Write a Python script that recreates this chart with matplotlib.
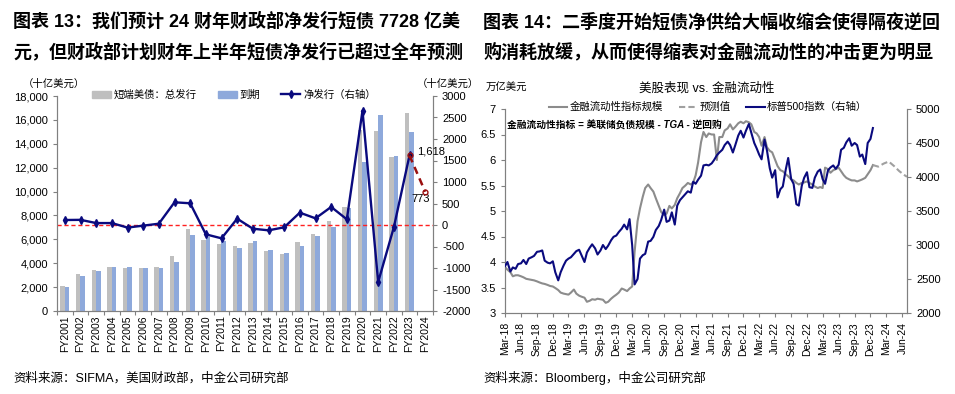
import numpy as np
import pandas as pd
import matplotlib
matplotlib.use('Agg')
import matplotlib.pyplot as plt
import matplotlib.ticker as mticker
import matplotlib.dates as mdates
from matplotlib.lines import Line2D
from matplotlib.patches import Patch

plt.rcParams['font.family'] = ['Liberation Sans', 'Noto Sans CJK SC', 'DejaVu Sans']
plt.rcParams['axes.unicode_minus'] = False

# ---------------- 左图数据 (十亿美元) ----------------
years = ['FY%d' % y for y in range(2001, 2025)]
gross = [2100, 3100, 3400, 3700, 3620, 3620, 3650, 4600, 6880, 5980, 5620, 5430,
         5730, 5010, 4760, 5770, 6430, 7520, 8700, 15150, 15100, 12900, 16600]
maturity = [2000, 2950, 3370, 3680, 3680, 3620, 3620, 4070, 6380, 6210, 5900, 5290,
            5820, 5100, 4850, 5460, 6300, 7060, 8600, 12500, 16400, 12970, 14950]
net = [116, 120, 45, 45, -60, -15, 30, 528, 505, -217, -310, 147,
       -86, -124, -54, 287, 155, 420, 132, 2658, -1326, -54, 1618]
net_fcst = [1618, 773]

# ---------------- 右图数据 ----------------
# 半月度读数, 2018-03 ~ 2023-12
spx = [2690, 2750, 2610, 2670, 2650, 2720, 2730, 2780, 2720, 2800, 2820, 2840, 2900, 2905, 2920, 2770, 2740, 2730, 2760, 2600,
       2480, 2600, 2700, 2770, 2800, 2820, 2870, 2910, 2930, 2850, 2750, 2890, 2960, 3010, 2950, 2860, 2920, 3000, 2940, 2990, 3070, 3120, 3140, 3190,
       3240, 3300, 3230, 3380, 3000, 2420, 2500, 2800, 2850, 2870, 3050, 3060, 3120, 3220, 3280, 3370, 3520, 3340, 3360, 3480, 3300, 3580, 3660, 3700,
       3750, 3790, 3770, 3930, 3900, 3960, 4020, 4170, 4180, 4170, 4200, 4250, 4320, 4360, 4400, 4470, 4520, 4470, 4360, 4470, 4610, 4680, 4580, 4680,
       4780, 4650, 4500, 4420, 4330, 4260, 4550, 4390, 4130, 3990, 4100, 3700, 3820, 3860, 4110, 4280, 3970, 3900, 3600, 3580, 3870, 3990, 4070, 3850,
       3840, 3990, 4080, 4110, 3970, 3900, 4100, 4140, 4170, 4120, 4180, 4400, 4430, 4510, 4570, 4460, 4500, 4470, 4300, 4330, 4190, 4500, 4560, 4720]
liq = [3.90, 3.85, 3.80, 3.72, 3.74, 3.74, 3.72, 3.70, 3.67, 3.66, 3.65, 3.64, 3.62, 3.60, 3.58, 3.57, 3.55, 3.53, 3.52, 3.49,
       3.45, 3.40, 3.38, 3.37, 3.36, 3.40, 3.46, 3.38, 3.34, 3.32, 3.30, 3.22, 3.24, 3.27, 3.26, 3.28, 3.27, 3.26, 3.20, 3.22, 3.28, 3.32, 3.36, 3.40,
       3.48, 3.46, 3.43, 3.48, 3.52, 4.20, 4.80, 5.05, 5.28, 5.45, 5.52, 5.45, 5.38, 5.25, 5.10, 4.98, 4.92, 4.95, 5.10, 5.05, 5.12, 5.25, 5.35, 5.45,
       5.50, 5.55, 5.52, 5.56, 5.70, 5.95, 6.35, 6.55, 6.45, 6.52, 6.50, 6.50, 6.00, 6.45, 6.45, 6.58, 6.62, 6.70, 6.60, 6.65, 6.72, 6.75, 6.72, 6.76,
       6.74, 6.70, 6.55, 6.52, 6.45, 6.28, 6.45, 6.25, 6.18, 6.15, 6.00, 5.88, 5.80, 5.78, 5.72, 5.68, 5.62, 5.60, 5.55, 5.52, 5.55, 5.56, 5.58, 5.55,
       5.52, 5.48, 5.45, 5.47, 5.45, 5.85, 5.82, 5.75, 5.80, 5.82, 5.85, 5.78, 5.70, 5.65, 5.62, 5.60, 5.60, 5.58, 5.60, 5.62, 5.65, 5.72, 5.80, 5.90]
dates = pd.date_range('2018-03-01', '2023-12-16', freq='SMS')
fc_dates = pd.to_datetime(['2023-12-15', '2024-01-15', '2024-02-15', '2024-03-15',
                           '2024-04-15', '2024-05-15', '2024-06-15', '2024-06-28'])
fc_liq = [5.90, 5.87, 5.93, 5.97, 5.88, 5.78, 5.70, 5.67]

GRAY_AX = '#808080'
NAVY = '#0A0A7E'

fig = plt.figure(figsize=(9.55, 3.94), dpi=100)

# 标题
fig.text(13/955, 1-22/394, '图表 13：我们预计 24 财年财政部净发行短债 7728 亿美', fontsize=13, weight='bold', va='center')
fig.text(13/955, 1-52/394, '元，但财政部计划财年上半年短债净发行已超过全年预测', fontsize=13, weight='bold', va='center')
fig.text(483/955, 1-22/394, '图表 14：二季度开始短债净供给大幅收缩会使得隔夜逆回', fontsize=13, weight='bold', va='center')
fig.text(483/955, 1-52/394, '购消耗放缓，从而使得缩表对金融流动性的冲击更为明显', fontsize=13, weight='bold', va='center')

# ---------------- 左图 ----------------
ax1 = fig.add_axes([57/955, 1-311/394, 376/955, 215/394])
x = np.arange(len(years))
n = len(gross)
ax1.bar(x[:n]-0.15, gross, 0.29, color='#BFBFBF', zorder=2)
ax1.bar(x[:n]+0.14, maturity, 0.29, color='#8EA9DB', zorder=2)
ax1.set_xlim(-0.5, len(years)-0.5)
ax1.set_ylim(0, 18000)
ax1.set_yticks(range(0, 18001, 2000))
ax1.yaxis.set_major_formatter(mticker.FuncFormatter(lambda v, p: '{:,.0f}'.format(v)))
ax1.set_xticks(np.arange(len(years)+1)-0.5)
ax1.set_xticklabels([])
ax1.set_xticks(x, minor=True)
ax1.set_xticklabels(years, minor=True, rotation=90, fontsize=7.5)
ax1.tick_params(axis='x', which='major', length=3, color=GRAY_AX)
ax1.tick_params(axis='x', which='minor', length=0, pad=3)
ax1.tick_params(axis='y', labelsize=8, length=3, color=GRAY_AX)

ax1r = ax1.twinx()
ax1r.set_ylim(-2000, 3000)
ax1r.set_yticks(range(-2000, 3001, 500))
ax1r.tick_params(axis='y', labelsize=8, length=3, color=GRAY_AX)
ax1r.axhline(0, color='#FF2020', ls=(0, (3, 2)), lw=1.0, zorder=1)
ax1r.plot(x[:n], net, color=NAVY, lw=1.7, marker='d', ms=4, zorder=3)
ax1r.plot(x[n-1:n+1], net_fcst, color='#9B1010', ls=(0, (3, 2)), lw=1.8,
          marker='o', ms=3.5, mfc='none', zorder=4)
ax1r.annotate('1,618', xy=(x[n-1], net_fcst[0]), xytext=(x[n-1]+0.5, net_fcst[0]+90),
              fontsize=8, va='center', arrowprops=dict(arrowstyle='-', color='black', lw=0.6))
ax1r.text(x[n]-0.3, net_fcst[1]-160, '773', fontsize=8, ha='center', va='center')

for a in (ax1, ax1r):
    a.spines['top'].set_visible(False)
    for s in ('left', 'right', 'bottom'):
        a.spines[s].set_color(GRAY_AX)

fig.text(23/955, 1-84/394, '（十亿美元）', fontsize=7.5, va='center')
fig.text(417/955, 1-84/394, '（十亿美元）', fontsize=7.5, va='center')

h1 = [Patch(color='#BFBFBF'), Patch(color='#8EA9DB'),
      Line2D([], [], color=NAVY, lw=1.7, marker='d', ms=4)]
fig.legend(h1, ['短端美债：总发行', '到期', '净发行（右轴）'], loc='center',
           bbox_to_anchor=(234/955, 1-95/394), ncol=3, frameon=False, fontsize=7.5,
           handlelength=1.8, handleheight=0.7, columnspacing=2.0, handletextpad=0.3)

fig.text(13/955, 1-378/394, '资料来源：SIFMA，美国财政部，中金公司研究部', fontsize=9, va='center')

# ---------------- 右图 ----------------
ax2 = fig.add_axes([505/955, 1-313/394, 402/955, 204/394])
ax2.plot(dates, liq, color='#8C8C8C', lw=1.5, zorder=2)
ax2.plot(fc_dates, fc_liq, color='#A0A0A0', ls=(0, (3, 1.5)), lw=1.5, zorder=2)
ax2.set_ylim(3, 7)
ax2.set_yticks(np.arange(3, 7.01, 0.5))
ax2.yaxis.set_major_formatter(mticker.FuncFormatter(lambda v, p: '%g' % v))
ax2.set_xlim(pd.Timestamp('2018-03-01'), pd.Timestamp('2024-06-28'))
qticks = pd.date_range('2018-03-01', '2024-06-01', freq='3MS')
ax2.set_xticks(qticks)
ax2.xaxis.set_major_formatter(mdates.DateFormatter('%b-%y'))
ax2.tick_params(axis='x', labelsize=7.5, rotation=90, length=3, color=GRAY_AX)
ax2.tick_params(axis='y', labelsize=8, length=3, color=GRAY_AX)

ax2r = ax2.twinx()
ax2r.plot(dates, spx, color=NAVY, lw=1.5, zorder=3)
ax2r.set_ylim(2000, 5000)
ax2r.set_yticks(range(2000, 5001, 500))
ax2r.tick_params(axis='y', labelsize=8, length=3, color=GRAY_AX)

for a in (ax2, ax2r):
    a.spines['top'].set_visible(False)
    for s in ('left', 'right', 'bottom'):
        a.spines[s].set_color(GRAY_AX)

fig.text(707/955, 1-88/394, '美股表现 vs. 金融流动性', fontsize=9, ha='center', va='center')
fig.text(486/955, 1-88/394, '万亿美元', fontsize=7.5, va='center')
h2 = [Line2D([], [], color='#8C8C8C', lw=1.5),
      Line2D([], [], color='#A0A0A0', lw=1.5, ls=(0, (3, 1.5))),
      Line2D([], [], color=NAVY, lw=1.5)]
fig.legend(h2, ['金融流动性指标规模', '预测值', '标普500指数（右轴）'], loc='center',
           bbox_to_anchor=(708/955, 1-107/394), ncol=3, frameon=False, fontsize=7.5,
           handlelength=1.8, columnspacing=1.5, handletextpad=0.2)
fig.text(507/955, 1-126/394, '金融流动性指标 = 美联储负债规模 - TGA - 逆回购', fontsize=7,
         style='italic', weight='bold', va='center')

fig.text(483/955, 1-378/394, '资料来源：Bloomberg，中金公司研究部', fontsize=9, va='center')

fig.savefig('out.png', dpi=100, facecolor='white')
